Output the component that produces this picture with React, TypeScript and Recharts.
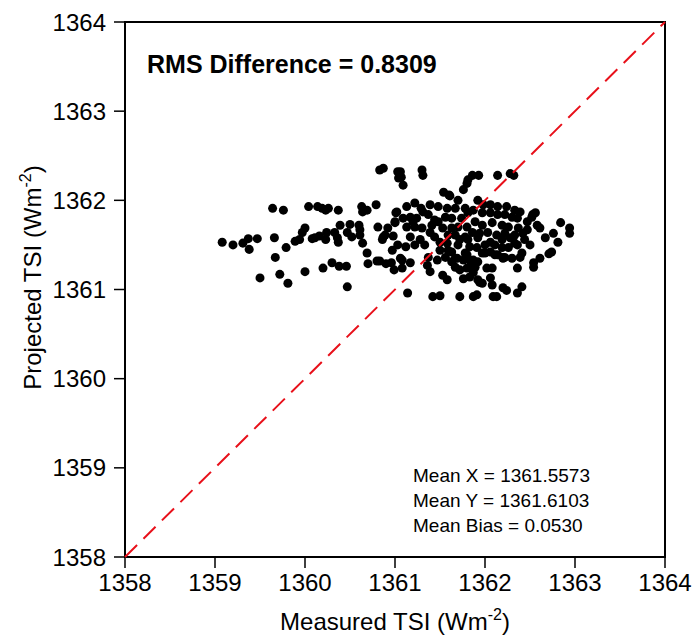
import { ScatterChart, Scatter, XAxis, YAxis, ZAxis, ReferenceLine, ReferenceArea, Label } from "recharts";

const measuredTSI = [
  1360.83, 1360.87, 1361.03, 1361.04, 1359.64, 1359.76, 1360.04, 1360.14, 1360.19, 1360.23,
  1360.26, 1360.37, 1360.63, 1360.64, 1360.69, 1360.79, 1361.01, 1360.39, 1360.5, 1360.6,
  1360.61, 1360.81, 1360.92, 1361.0, 1360.0, 1359.97, 1359.08, 1359.2, 1359.31, 1359.37,
  1359.47, 1359.38, 1359.66, 1359.79, 1359.89, 1359.94, 1360.08, 1360.11, 1360.16, 1360.24,
  1360.23, 1360.33, 1360.36, 1360.37, 1360.47, 1360.52, 1360.61, 1360.64, 1360.69, 1360.86,
  1360.87, 1360.89, 1360.98, 1359.67, 1360.7, 1360.8, 1360.83, 1360.9, 1360.96, 1360.99,
  1360.3, 1360.38, 1360.46, 1360.2, 1360.0, 1359.72, 1359.5, 1359.81, 1360.47, 1361.06,
  1361.07, 1361.09, 1361.3, 1361.31, 1361.86, 1361.81, 1361.8, 1361.93, 1362.14, 1362.28,
  1362.32, 1361.54, 1361.6, 1361.76, 1361.92, 1362.56, 1362.52, 1362.84, 1362.94, 1362.94,
  1362.76, 1362.81, 1362.74, 1362.71, 1362.61, 1362.54, 1362.54, 1362.41, 1362.39, 1362.36,
  1362.41, 1362.36, 1362.24, 1362.2, 1362.13, 1362.09, 1361.91, 1361.87, 1361.72, 1361.42,
  1361.5, 1361.14, 1361.94, 1362.06, 1362.08, 1361.83, 1361.76, 1361.53, 1361.58, 1361.36,
  1361.39, 1361.17, 1361.08, 1361.08, 1361.12, 1361.02, 1361.0, 1362.02, 1362.08, 1361.89,
  1361.87, 1362.2, 1362.19, 1362.36, 1361.91, 1361.97, 1362.06, 1361.61, 1361.13, 1361.29,
  1361.31, 1361.48, 1361.58, 1361.67, 1361.78, 1361.09, 1361.17, 1361.2, 1361.24, 1361.37,
  1361.44, 1361.48, 1361.56, 1361.63, 1361.74, 1361.81, 1361.13, 1361.22, 1361.3, 1361.17,
  1361.39, 1361.44, 1361.53, 1361.59, 1361.63, 1361.7, 1361.8, 1361.37, 1361.5, 1361.58,
  1361.59, 1361.56, 1361.7, 1361.78, 1361.76, 1361.67, 1361.06, 1361.47, 1361.87, 1362.06,
  1362.14, 1362.24, 1362.33, 1361.97, 1362.06, 1362.14, 1362.3, 1362.36, 1362.53, 1361.89,
  1361.97, 1362.08, 1362.19, 1362.26, 1362.37, 1362.47, 1362.58, 1362.61, 1361.86, 1361.94,
  1362.03, 1362.13, 1362.22, 1362.33, 1362.42, 1361.92, 1362.06, 1362.19, 1362.33, 1361.78,
  1361.81, 1362.0, 1362.14, 1362.22, 1362.3, 1361.8, 1361.83, 1361.92, 1361.67, 1361.72,
  1361.8, 1361.86, 1361.87, 1361.92, 1361.97, 1361.63, 1361.69, 1362.11, 1362.2, 1361.28,
  1361.33, 1361.41, 1361.67, 1361.72, 1361.5, 1361.63, 1361.22, 1361.03, 1360.97, 1361.83,
  1362.0, 1362.11, 1362.26, 1362.44, 1362.5, 1362.67, 1362.28, 1362.47, 1362.22, 1362.39,
  1361.98, 1361.7, 1361.39, 1361.22,
];

const projectedTSI = [
  1362.34, 1362.36, 1362.32, 1362.25, 1361.91, 1361.89, 1361.93, 1361.93, 1361.91, 1361.89,
  1361.91, 1361.89, 1361.93, 1361.87, 1361.89, 1361.95, 1361.86, 1361.72, 1361.73, 1361.72,
  1361.67, 1361.7, 1361.69, 1361.75, 1361.69, 1361.64, 1361.53, 1361.5, 1361.52, 1361.57,
  1361.57, 1361.45, 1361.58, 1361.47, 1361.54, 1361.56, 1361.57, 1361.58, 1361.6, 1361.64,
  1361.56, 1361.64, 1361.58, 1361.53, 1361.64, 1361.59, 1361.61, 1361.52, 1361.41, 1361.56,
  1361.59, 1361.61, 1361.6, 1361.36, 1361.29, 1361.32, 1361.32, 1361.29, 1361.3, 1361.22,
  1361.3, 1361.26, 1361.26, 1361.24, 1361.2, 1361.17, 1361.13, 1361.07, 1361.03, 1362.32,
  1362.26, 1362.17, 1362.34, 1362.28, 1362.28, 1362.23, 1362.19, 1362.28, 1362.28, 1362.3,
  1362.28, 1362.09, 1362.06, 1362.12, 1362.0, 1361.86, 1361.81, 1361.75, 1361.69, 1361.63,
  1361.63, 1361.53, 1361.42, 1361.4, 1361.35, 1361.3, 1361.25, 1361.41, 1361.36, 1361.24,
  1361.03, 1360.96, 1360.99, 1361.02, 1360.92, 1360.92, 1360.94, 1360.92, 1360.92, 1360.92,
  1360.93, 1360.96, 1361.08, 1361.13, 1361.05, 1361.14, 1361.12, 1361.16, 1361.11, 1361.27,
  1361.2, 1361.3, 1361.33, 1361.24, 1361.48, 1361.87, 1361.76, 1361.24, 1361.24, 1361.25,
  1361.33, 1361.36, 1361.47, 1361.5, 1361.47, 1361.41, 1361.42, 1362.05, 1361.93, 1361.91,
  1361.87, 1361.93, 1361.91, 1361.91, 1361.91, 1361.8, 1361.81, 1361.76, 1361.8, 1361.84,
  1361.78, 1361.76, 1361.81, 1361.8, 1361.8, 1361.86, 1361.7, 1361.7, 1361.69, 1361.59,
  1361.64, 1361.59, 1361.69, 1361.61, 1361.69, 1361.7, 1361.7, 1361.36, 1361.53, 1361.52,
  1361.44, 1361.36, 1361.5, 1361.41, 1361.33, 1361.35, 1361.35, 1361.33, 1361.89, 1361.95,
  1361.93, 1361.93, 1361.89, 1361.86, 1361.86, 1361.84, 1361.81, 1361.8, 1361.84, 1361.76,
  1361.72, 1361.75, 1361.72, 1361.7, 1361.69, 1361.67, 1361.72, 1361.69, 1361.64, 1361.63,
  1361.64, 1361.61, 1361.63, 1361.61, 1361.63, 1361.58, 1361.53, 1361.56, 1361.52, 1361.59,
  1361.56, 1361.41, 1361.39, 1361.36, 1361.35, 1361.39, 1361.33, 1361.31, 1361.25, 1361.22,
  1361.24, 1361.3, 1361.19, 1361.11, 1361.07, 1361.31, 1361.35, 1361.39, 1361.35, 1361.56,
  1361.5, 1361.72, 1361.61, 1361.56, 1361.44, 1361.42, 1361.5, 1361.5, 1361.44, 1361.48,
  1361.5, 1361.5, 1361.47, 1361.56, 1361.5, 1361.58, 1361.58, 1361.76, 1361.84, 1361.87,
  1361.95, 1362.0, 1361.95, 1361.97,
];

const axisTicks = [1358, 1359, 1360, 1361, 1362, 1363, 1364];
const statLines = ["Mean X = 1361.5573", "Mean Y = 1361.6103", "Mean Bias = 0.0530"];
const rmsText = "RMS Difference = 0.8309";

const points = measuredTSI.map((x, i) => ({ x, y: projectedTSI[i] }));

const FONT = "'Liberation Sans', Arial, Helvetica, sans-serif";

export default function App() {
  return (
    <div style={{ position: "absolute", left: 0, top: 0, fontFamily: FONT }}>
      <ScatterChart width={693} height={637} margin={{ top: 22, right: 28, bottom: 0, left: 0 }}>
        <XAxis
          type="number"
          dataKey="x"
          domain={[1358, 1364]}
          ticks={axisTicks}
          allowDataOverflow
          height={80}
          stroke="#000"
          axisLine={{ stroke: "#000", strokeWidth: 2 }}
          tickLine={{ stroke: "#000", strokeWidth: 1.5 }}
          tickSize={11}
          tickMargin={6}
          tick={{ fontSize: 24, fill: "#000", fontFamily: FONT }}
        >
          <Label
            content={({ viewBox }: any) => (
              <text x={viewBox.x + viewBox.width / 2} y={630} textAnchor="middle" fontSize={24} fill="#000" fontFamily={FONT}>
                Measured TSI (Wm
                <tspan dy={-10} fontSize={16}>-2</tspan>
                <tspan dy={10}>)</tspan>
              </text>
            )}
          />
        </XAxis>
        <YAxis
          type="number"
          dataKey="y"
          domain={[1358, 1364]}
          ticks={axisTicks}
          allowDataOverflow
          width={125}
          stroke="#000"
          axisLine={{ stroke: "#000", strokeWidth: 2 }}
          tickLine={{ stroke: "#000", strokeWidth: 1.5 }}
          tickSize={11}
          tickMargin={8}
          tick={{ fontSize: 24, fill: "#000", fontFamily: FONT }}
        >
          <Label
            content={({ viewBox }: any) => {
              const cy = viewBox.y + viewBox.height / 2 - 12;
              return (
                <text x={41} y={cy} transform={`rotate(-90, 41, ${cy})`} textAnchor="middle" fontSize={24} fill="#000" fontFamily={FONT}>
                  Projected TSI (Wm
                  <tspan dy={-10} fontSize={16}>-2</tspan>
                  <tspan dy={10}>)</tspan>
                </text>
              );
            }}
          />
        </YAxis>
        <ZAxis range={[56, 56]} />
        <ReferenceArea x1={1358} x2={1364} y1={1358} y2={1364} fill="none" stroke="#000" strokeWidth={2} fillOpacity={0} />
        <Scatter data={points} fill="#000" isAnimationActive={false} />
        <ReferenceLine
          segment={[{ x: 1358, y: 1358 }, { x: 1364, y: 1364 }]}
          stroke="#e8101a"
          strokeWidth={2}
          strokeDasharray="17 9"
          zIndex={700}
        />
        <text x={147} y={73} fontSize={25} fontWeight="bold" fill="#000" fontFamily={FONT}>
          {rmsText}
        </text>
        {statLines.map((line, i) => (
          <text key={line} x={413} y={482 + i * 25} fontSize={19} fill="#000" fontFamily={FONT}>
            {line}
          </text>
        ))}
      </ScatterChart>
    </div>
  );
}
